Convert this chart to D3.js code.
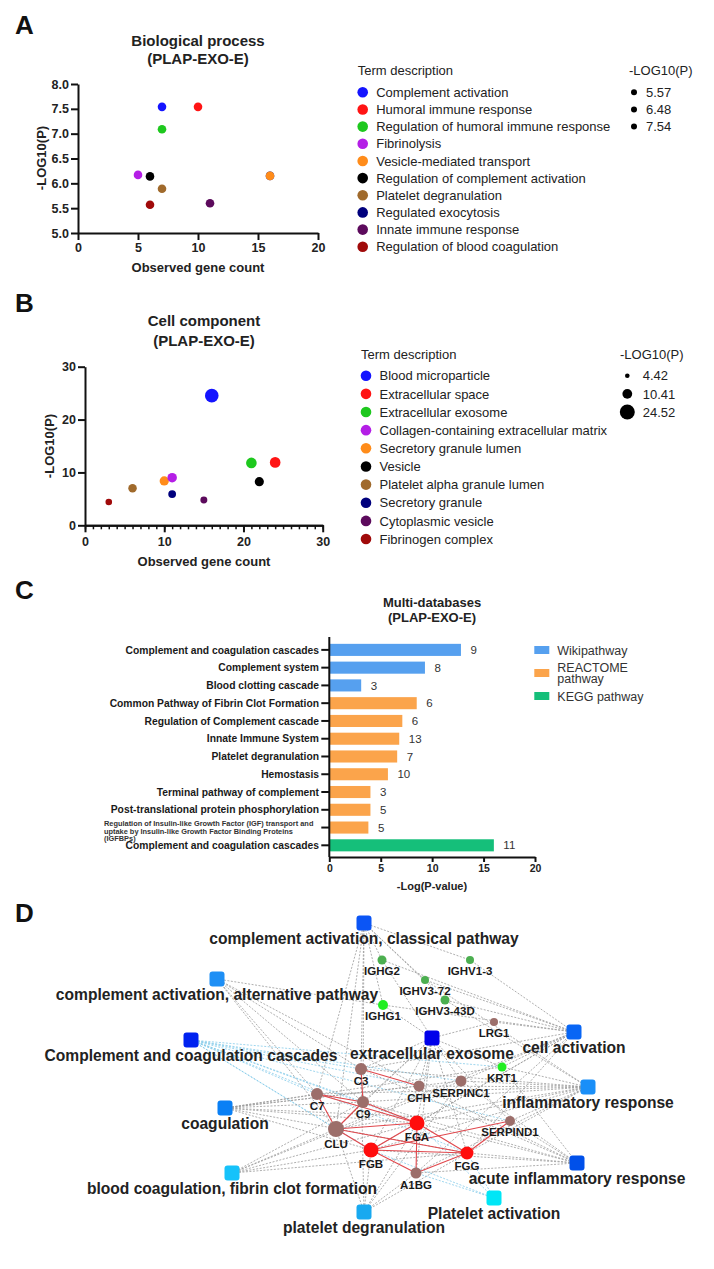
<html>
<head>
  <script src="https://cdn.jsdelivr.net/npm/d3@7"></script>
  <style>
    body{margin:0;background:#fff;}
    text{font-family:"Liberation Sans",Arial,sans-serif;}
  </style>
</head>
<body>
<svg id="fig" width="714" height="1269"></svg>

<script type="text/javascript">

// ---------- data ----------
// A: biological process
const bpTerms = ["Complement activation","Humoral immune response","Regulation of humoral immune response",
  "Fibrinolysis","Vesicle-mediated transport","Regulation of complement activation","Platelet degranulation",
  "Regulated exocytosis","Innate immune response","Regulation of blood coagulation"]
const bpCount = [7,10,7,5,16,6,7,16,11,6]
const bpLogP  = [7.54,7.54,7.09,6.17,6.15,6.14,5.89,6.15,5.60,5.57]
const bpSizeLegend = [5.57,6.48,7.54]
const bpXTicks = [0,5,10,15,20]
const bpYTicks = [5.0,5.5,6.0,6.5,7.0,7.5,8.0]

// B: cell component
const ccTerms = ["Blood microparticle","Extracellular space","Extracellular exosome",
  "Collagen-containing extracellular matrix","Secretory granule lumen","Vesicle","Platelet alpha granule lumen",
  "Secretory granule","Cytoplasmic vesicle","Fibrinogen complex"]
const ccCount = [16,24,21,11,10,22,6,11,15,3]
const ccLogP  = [24.52,11.9,11.8,9.0,8.4,8.25,7.0,5.9,4.8,4.42]
const ccSizeLegend = [4.42,10.41,24.52]
const ccXTicks = [0,10,20,30]
const ccYTicks = [0,10,20,30]

// C: multi-databases
const pathNames = ["Complement and coagulation cascades","Complement system","Blood clotting cascade",
  "Common Pathway of Fibrin Clot Formation","Regulation of Complement cascade","Innate Immune System",
  "Platelet degranulation","Hemostasis","Terminal pathway of complement","Post-translational protein phosphorylation",
  "Regulation of Insulin-like Growth Factor (IGF) transport and|uptake by Insulin-like Growth Factor Binding Proteins|(IGFBPs)",
  "Complement and coagulation cascades"]
const pathLogP  = [12.8,9.3,3.1,8.5,7.1,6.8,6.6,5.7,4.0,4.0,3.8,16.0]
const pathGenes = [9,8,3,6,6,13,7,10,3,5,5,11]
const pathDb    = ["Wikipathway","Wikipathway","Wikipathway","REACTOME pathway","REACTOME pathway","REACTOME pathway",
  "REACTOME pathway","REACTOME pathway","REACTOME pathway","REACTOME pathway","REACTOME pathway","KEGG pathway"]
const dbNames = ["Wikipathway","REACTOME pathway","KEGG pathway"]
const pathXTicks = [0,5,10,15,20]

// D: network
const termNodes = ["complement activation, classical pathway","complement activation, alternative pathway",
  "Complement and coagulation cascades","coagulation","blood coagulation, fibrin clot formation",
  "platelet degranulation","extracellular exosome","cell activation","inflammatory response",
  "acute inflammatory response","Platelet activation"]
const termSource = ["GO","GO","KEGG","GO","GO","GO","GO","GO","GO","GO","KEGG"]
const geneNodes = ["IGHG2","IGHV1-3","IGHV3-72","IGHG1","IGHV3-43D","LRG1","KRT1","C3","CFH","SERPINC1",
  "C9","C7","CLU","FGA","FGB","FGG","SERPIND1","A1BG"]
const geneGroup = ["ig","ig","ig","ig2","ig","other","ig2","other","other","other",
  "other","other","other","fib","fib","fib","other","other"]
const geneWeight = [3.2,2.5,2.5,3.9,3.2,2.5,3.2,5.6,4.7,4.7,5.6,5.6,10,8.8,8.8,6.6,3.9,4.7]
const termMembers = [
  ["IGHG2","IGHV1-3","IGHV3-72","IGHG1","IGHV3-43D","C3","C7","C9","CLU"],
  ["C3","CFH","C7","C9","CLU","IGHG1"],
  ["C3","C7","C9","CFH","CLU","FGA","FGB","FGG","SERPINC1","SERPIND1","KRT1"],
  ["FGA","FGB","FGG","SERPINC1","SERPIND1","C7","C9","CFH","KRT1"],
  ["FGA","FGB","FGG","SERPINC1","CLU","C9"],
  ["FGA","FGB","FGG","CLU","A1BG","SERPINC1","C3"],
  ["C3","CFH","C9","CLU","FGA","FGB","FGG","KRT1","LRG1","A1BG","SERPINC1","SERPIND1","IGHG1","IGHG2"],
  ["IGHG1","IGHG2","IGHV1-3","IGHV3-72","IGHV3-43D","LRG1","KRT1","FGA","FGB","FGG","C3","CLU","A1BG","SERPINC1"],
  ["C3","C7","C9","CFH","CLU","FGA","FGB","FGG","KRT1","SERPINC1","SERPIND1","A1BG","IGHV3-43D","IGHV3-72"],
  ["FGA","FGB","FGG","C3","C9","CFH","SERPIND1","KRT1","SERPINC1","A1BG"],
  ["FGA","FGB","FGG","A1BG"]
]
const geneLinks = [["C3","CFH"],["C3","C9"],["C7","C9"],["C7","CLU"],["C7","FGA"],["C9","CLU"],["C9","FGA"],
  ["CLU","FGA"],["CLU","FGB"],["CLU","FGG"],["FGA","FGB"],["FGA","FGG"],["FGB","FGG"],["FGB","A1BG"],
  ["FGG","A1BG"],["FGA","A1BG"],["FGG","SERPIND1"],["FGB","SERPIND1"]]

// network layout (layout units, mapped through scales below)
const layout = {
  "complement activation, classical pathway":[364,43],"complement activation, alternative pathway":[217,99],
  "Complement and coagulation cascades":[191,160],"coagulation":[225,228],
  "blood coagulation, fibrin clot formation":[232,293],"platelet degranulation":[364,332],
  "extracellular exosome":[432,158],"cell activation":[574,152],"inflammatory response":[588,207],
  "acute inflammatory response":[577,283],"Platelet activation":[494,318],
  "IGHG2":[382,80],"IGHV1-3":[470,80],"IGHV3-72":[425,100],"IGHG1":[383,125],"IGHV3-43D":[445,120],
  "LRG1":[494,142],"KRT1":[502,187],"C3":[361,189],"CFH":[419,206],"SERPINC1":[461,201],
  "C9":[363,222],"C7":[317,214],"CLU":[336,249],"FGA":[417,243],"FGB":[371,270],"FGG":[467,273],
  "SERPIND1":[510,241],"A1BG":[416,293]
}

// ---------- styles ----------
const termColors = ["#1414ff","#ff1414","#1ec81e","#b41ee6","#ff8c1a","#000000","#a06a2c","#00007d","#5c0a5c","#a00a0a"]
const dbColors = {"Wikipathway":"#56a0ef","REACTOME pathway":"#fba44b","KEGG pathway":"#15bf7a"}
const netTermColors = ["#0b55f5","#1e8ff5","#0022f0","#0a80f5","#16c2fa","#18a9f0","#0000ea","#0866f5","#1a8ff8","#0050ea","#00e6f6"]
const geneColors = {"ig":"#4caf50","ig2":"#22ee22","other":"#9c6e6a","fib":"#ff0d0d"}

const svg = d3.select('#fig')
svg.append('rect').attr('width',714).attr('height',1269).attr('fill','#fff')

function styleAxis(g, fs){
  g.attr('font-family','Liberation Sans, Arial, sans-serif').attr('font-size',fs).attr('font-weight','bold')
  g.selectAll('path.domain').attr('stroke','#111').attr('stroke-width',2)
  g.selectAll('.tick line').attr('stroke','#111').attr('stroke-width',2)
  g.selectAll('.tick text').attr('fill','#222')
}

function letter(t,x,y){
  svg.append('text').attr('x',x).attr('y',y).attr('font-size',26).attr('font-weight','bold').attr('fill','#111').text(t)
}

function title(lines,x,y,fs,gap){
  lines.forEach(function(l,i){
    svg.append('text').attr('x',x).attr('y',y+i*gap).attr('text-anchor','middle')
      .attr('font-size',fs).attr('font-weight','bold').attr('fill','#222').text(l)
  })
}

// ---------- A ----------
letter("A",15,34)
title(["Biological process","(PLAP-EXO-E)"],198,46,15,18)

let xA = d3.scaleLinear().domain([0,20]).range([78,318])
let yA = d3.scaleLinear().domain([5,8]).range([233,84])

let gxA = svg.append('g').attr('transform','translate(0,233)')
  .call(d3.axisBottom(xA).tickValues(bpXTicks).tickSize(7).tickSizeOuter(0).tickPadding(3))
styleAxis(gxA,12.5)
let gyA = svg.append('g').attr('transform','translate(78,0)')
  .call(d3.axisLeft(yA).tickValues(bpYTicks).tickFormat(d3.format(".1f")).tickSize(7).tickSizeOuter(0).tickPadding(2))
styleAxis(gyA,12.5)

svg.append('text').attr('x',198).attr('y',271.5).attr('text-anchor','middle').attr('font-size',13)
  .attr('font-weight','bold').attr('fill','#222').text("Observed gene count")
svg.append('text').attr('transform','translate(46,158) rotate(-90)').attr('text-anchor','middle')
  .attr('font-size',13).attr('font-weight','bold').attr('fill','#222').text("-LOG10(P)")

svg.append('g').selectAll('circle').data(d3.range(bpTerms.length).reverse()).enter().append('circle')
  .attr('cx',function(i){return xA(bpCount[i])})
  .attr('cy',function(i){return yA(bpLogP[i])})
  .attr('r',4.3)
  .attr('fill',function(i){return termColors[i]})

// legends A
function termLegend(terms, x, y0, step, headY){
  svg.append('text').attr('x',x-5).attr('y',headY).attr('font-size',13).attr('fill','#222').text("Term description")
  let g = svg.append('g')
  g.selectAll('circle').data(terms).enter().append('circle')
    .attr('cx',x).attr('cy',function(d,i){return y0+i*step}).attr('r',5.3)
    .attr('fill',function(d,i){return termColors[i]})
  g.selectAll('text').data(terms).enter().append('text')
    .attr('x',x+13.5).attr('y',function(d,i){return y0+i*step}).attr('dy','0.36em')
    .attr('font-size',13).attr('fill','#222').text(function(d){return d})
}
termLegend(bpTerms,362.7,92.3,17.16,75)

svg.append('text').attr('x',629).attr('y',75).attr('font-size',13).attr('fill','#222').text("-LOG10(P)")
let gSA = svg.append('g')
gSA.selectAll('circle').data(bpSizeLegend).enter().append('circle')
  .attr('cx',634).attr('cy',function(d,i){return 92.3+i*17.16}).attr('r',3).attr('fill','#000')
gSA.selectAll('text').data(bpSizeLegend).enter().append('text')
  .attr('x',646).attr('y',function(d,i){return 92.3+i*17.16}).attr('dy','0.36em')
  .attr('font-size',13).attr('fill','#222').text(function(d){return d.toFixed(2)})

// ---------- B ----------
letter("B",15,312)
title(["Cell component","(PLAP-EXO-E)"],204,326,15,20)

let xB = d3.scaleLinear().domain([0,30]).range([85,322.7])
let yB = d3.scaleLinear().domain([0,30]).range([525.3,366.7])
let rB = d3.scaleLog().domain([4.42,24.52]).range([3.3,6.8])
let rBLeg = d3.scaleLog().domain([4.42,24.52]).range([2.3,7.5])

let gxBm = svg.append('g').attr('transform','translate(0,525.3)')
  .call(d3.axisBottom(xB).tickValues(d3.range(0,31)).tickSize(4).tickSizeOuter(0).tickFormat(''))
styleAxis(gxBm,12.5)
gxBm.selectAll('.tick line').attr('stroke-width',1.5)
let gxB = svg.append('g').attr('transform','translate(0,525.3)')
  .call(d3.axisBottom(xB).tickValues(ccXTicks).tickSize(7).tickSizeOuter(0).tickPadding(5))
styleAxis(gxB,12.5)
let gyB = svg.append('g').attr('transform','translate(85,0)')
  .call(d3.axisLeft(yB).tickValues(ccYTicks).tickSize(7).tickSizeOuter(0).tickPadding(2))
styleAxis(gyB,12.5)

svg.append('text').attr('x',204).attr('y',565.5).attr('text-anchor','middle').attr('font-size',13)
  .attr('font-weight','bold').attr('fill','#222').text("Observed gene count")
svg.append('text').attr('transform','translate(54,446) rotate(-90)').attr('text-anchor','middle')
  .attr('font-size',13).attr('font-weight','bold').attr('fill','#222').text("-LOG10(P)")

svg.append('g').selectAll('circle').data(d3.range(ccTerms.length).reverse()).enter().append('circle')
  .attr('cx',function(i){return xB(ccCount[i])})
  .attr('cy',function(i){return yB(ccLogP[i])})
  .attr('r',function(i){return rB(ccLogP[i])})
  .attr('fill',function(i){return termColors[i]})

termLegend(ccTerms,366,375.7,18.15,359)
svg.append('text').attr('x',620).attr('y',359).attr('font-size',13).attr('fill','#222').text("-LOG10(P)")
let gSB = svg.append('g')
gSB.selectAll('circle').data(ccSizeLegend).enter().append('circle')
  .attr('cx',627.3).attr('cy',function(d,i){return 375.7+i*18.15}).attr('r',function(d){return rBLeg(d)}).attr('fill','#000')
gSB.selectAll('text').data(ccSizeLegend).enter().append('text')
  .attr('x',642.7).attr('y',function(d,i){return 375.7+i*18.15}).attr('dy','0.36em')
  .attr('font-size',13).attr('fill','#222').text(function(d){return d.toFixed(2)})

// ---------- C ----------
letter("C",15,599)
title(["Multi-databases","(PLAP-EXO-E)"],432,607,13,15)

let xC = d3.scaleLinear().domain([0,20]).range([329.3,535])
let yC = d3.scaleBand().domain(d3.range(pathNames.length)).range([641,854.2]).paddingInner(0.32).paddingOuter(0.16)

svg.append('g').selectAll('rect').data(d3.range(pathNames.length)).enter().append('rect')
  .attr('x',xC(0)).attr('y',function(i){return yC(i)})
  .attr('width',function(i){return xC(pathLogP[i])-xC(0)})
  .attr('height',yC.bandwidth())
  .attr('fill',function(i){return dbColors[pathDb[i]]})

svg.append('g').selectAll('text').data(d3.range(pathNames.length)).enter().append('text')
  .attr('x',function(i){return xC(pathLogP[i])+9.5})
  .attr('y',function(i){return yC(i)+yC.bandwidth()/2}).attr('dy','0.36em')
  .attr('font-size',11.5).attr('fill','#333').text(function(i){return pathGenes[i]})

let gxC = svg.append('g').attr('transform','translate(0,857)')
  .call(d3.axisBottom(xC).tickValues(pathXTicks).tickSize(5).tickSizeOuter(0).tickPadding(3))
styleAxis(gxC,10.5)
let gyC = svg.append('g').attr('transform','translate(329.3,0)')
  .call(d3.axisLeft(yC).tickSize(8).tickSizeOuter(0).tickPadding(2).tickFormat(''))
styleAxis(gyC,10)
gyC.select('path.domain').attr('d','M0,637V857')

let gLabC = svg.append('g')
pathNames.forEach(function(name,i){
  let cy = yC(i)+yC.bandwidth()/2
  if(name.indexOf('|')<0){
    gLabC.append('text').attr('x',319).attr('y',cy).attr('dy','0.36em').attr('text-anchor','end')
      .attr('font-size',10.3).attr('font-weight','bold').attr('fill','#1a1a1a').text(name)
  }else{
    name.split('|').forEach(function(l,j){
      gLabC.append('text').attr('x',104).attr('y',826+j*7.6)
        .attr('font-size',7.4).attr('font-weight','bold').attr('fill','#333').text(l)
    })
  }
})

svg.append('text').attr('x',432).attr('y',890).attr('text-anchor','middle').attr('font-size',11)
  .attr('font-weight','bold').attr('fill','#222').text("-Log(P-value)")

// legend C
let gLegC = svg.append('g')
let legRowC = d3.scalePoint().domain(dbNames).range([650,696])
gLegC.selectAll('rect').data(dbNames).enter().append('rect')
  .attr('x',534.3).attr('y',function(d){return legRowC(d)-4}).attr('width',15).attr('height',8)
  .attr('fill',function(d){return dbColors[d]})
dbNames.forEach(function(d){
  let words = d=="REACTOME pathway" ? ["REACTOME","pathway"] : [d]
  words.forEach(function(w,j){
    gLegC.append('text').attr('x',557.3).attr('y',legRowC(d)+(words.length>1?(j*11.7-5.8):0)).attr('dy','0.36em')
      .attr('font-size',12.5).attr('fill','#333').text(w)
  })
})

// ---------- D ----------
letter("D",15,922)

let xD = d3.scaleLinear().domain([0,714]).range([0,714])
let yD = d3.scaleLinear().domain([0,389]).range([880,1269])
let rD = d3.scaleSqrt().domain([0,10]).range([0,8])

let gEdges = svg.append('g')
termNodes.forEach(function(t,i){
  let kegg = termSource[i]=="KEGG"
  termMembers[i].forEach(function(g){
    gEdges.append('line')
      .attr('x1',xD(layout[t][0])).attr('y1',yD(layout[t][1]))
      .attr('x2',xD(layout[g][0])).attr('y2',yD(layout[g][1]))
      .attr('stroke',kegg?'#86cbea':'#9a9a9a').attr('stroke-width',0.8)
      .attr('stroke-dasharray','2,1.5')
  })
})
gEdges.selectAll('line.gg').data(geneLinks).enter().append('line').attr('class','gg')
  .attr('x1',function(d){return xD(layout[d[0]][0])}).attr('y1',function(d){return yD(layout[d[0]][1])})
  .attr('x2',function(d){return xD(layout[d[1]][0])}).attr('y2',function(d){return yD(layout[d[1]][1])})
  .attr('stroke','#e0474c').attr('stroke-width',1.1)

// gene nodes
let gGenes = svg.append('g')
gGenes.selectAll('circle').data(geneNodes).enter().append('circle')
  .attr('cx',function(d){return xD(layout[d][0])}).attr('cy',function(d){return yD(layout[d][1])})
  .attr('r',function(d,i){return rD(geneWeight[i])})
  .attr('fill',function(d,i){return geneColors[geneGroup[i]]})
gGenes.selectAll('text').data(geneNodes).enter().append('text')
  .attr('x',function(d){return xD(layout[d][0])})
  .attr('y',function(d,i){return yD(layout[d][1])+rD(geneWeight[i])+10.5})
  .attr('text-anchor','middle').attr('font-family','Noto Sans, sans-serif').attr('font-weight','bold')
  .attr('font-size',11.5).attr('fill','#1a1a1a').text(function(d){return d})

// term nodes
let gTerms = svg.append('g')
gTerms.selectAll('rect').data(termNodes).enter().append('rect')
  .attr('x',function(d){return xD(layout[d][0])-7.5}).attr('y',function(d){return yD(layout[d][1])-7.5})
  .attr('width',15).attr('height',15).attr('rx',3)
  .attr('fill',function(d,i){return netTermColors[i]})
gTerms.selectAll('text').data(termNodes).enter().append('text')
  .attr('x',function(d){return xD(layout[d][0])})
  .attr('y',function(d){return yD(layout[d][1])+21})
  .attr('text-anchor','middle').attr('font-weight','bold')
  .attr('font-size',15.6).attr('fill','#222').text(function(d){return d})

</script>
</body>
</html>
